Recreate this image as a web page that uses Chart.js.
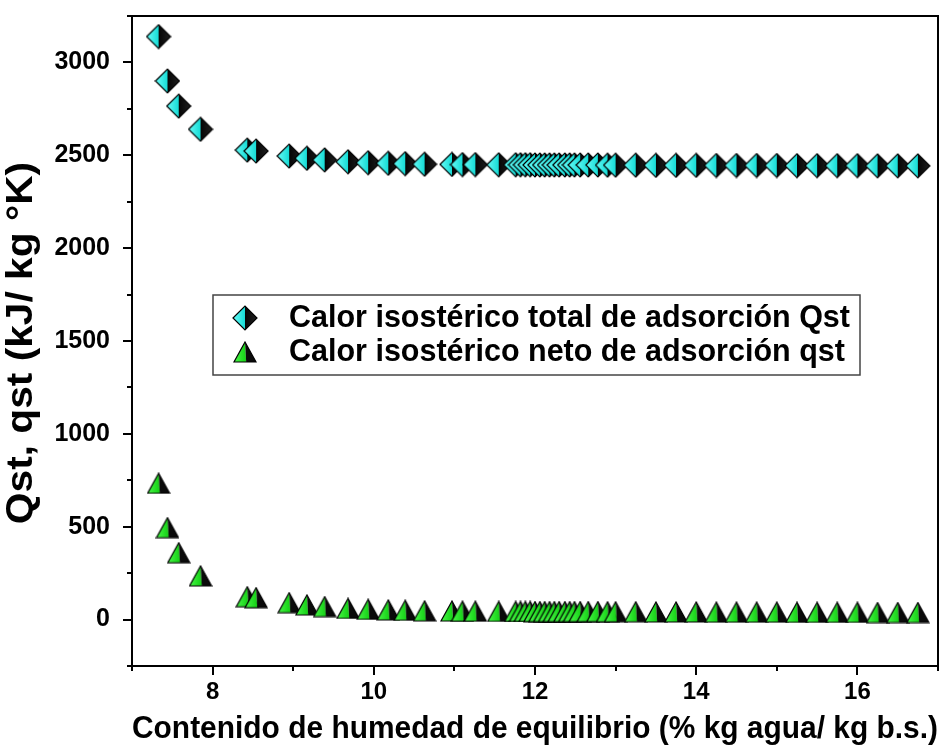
<!DOCTYPE html>
<html>
<head>
<meta charset="utf-8">
<script src="https://cdn.jsdelivr.net/npm/chart.js@4/dist/chart.umd.min.js"></script>
<style>
  html, body { margin: 0; padding: 0; background: #ffffff; }
  #wrap { width: 946px; height: 750px; }
</style>
</head>
<body>
<div id="wrap"><canvas id="c" width="946" height="750"></canvas></div>
<script>
// Equilibrium moisture content (% kg water / kg d.b.)
const moisture = [
  7.33, 7.44, 7.58, 7.85, 8.43, 8.54, 8.95, 9.17, 9.39, 9.68,
  9.93, 10.18, 10.39, 10.63, 10.97, 11.10, 11.26, 11.55,
  11.76, 11.82, 11.88, 11.94, 12.00, 12.06, 12.12, 12.18, 12.24, 12.30, 12.37, 12.43, 12.49, 12.56,
  12.66, 12.78, 12.90,
  13.00, 13.25, 13.50, 13.75, 14.00, 14.25, 14.50, 14.75, 15.00, 15.25, 15.50, 15.75, 16.00, 16.25, 16.50, 16.75
];

// Total isosteric heat of sorption Qst (kJ/kg)
const qstTotal = [
  3139, 2900, 2765, 2640, 2528, 2523, 2496, 2484, 2475, 2465,
  2460, 2457, 2455, 2452, 2451, 2450, 2450, 2449,
  2449, 2449, 2449, 2449, 2448, 2448, 2448, 2448, 2448, 2448, 2448, 2448, 2448, 2448,
  2448, 2448, 2447,
  2447, 2447, 2446, 2446, 2446, 2445, 2445, 2445, 2445, 2444, 2444, 2444, 2444, 2443, 2443, 2443
];

// Net isosteric heat of sorption qst (kJ/kg)
const qstNet = [
  734, 495, 360, 235, 123, 118, 91, 79, 70, 60,
  55, 52, 50, 47, 46, 45, 45, 44,
  44, 44, 44, 44, 43, 43, 43, 43, 43, 43, 43, 43, 43, 43,
  43, 43, 42,
  42, 42, 41, 41, 41, 40, 40, 40, 40, 39, 39, 39, 39, 38, 38, 38
];

const seriesLabels = [
  'Calor isostérico total de adsorción Qst',
  'Calor isostérico neto de adsorción qst'
];

const xTitle = 'Contenido de humedad de equilibrio (% kg agua/ kg b.s.)';
const yTitle = 'Qst, qst (kJ/ kg °K)';

const xMajorTicks = [8, 10, 12, 14, 16];
const xMinorTicks = [7, 9, 11, 13, 15, 17];
const yMajorTicks = [0, 500, 1000, 1500, 2000, 2500, 3000];
const yMinorTicks = [-250, 250, 750, 1250, 1750, 2250, 2750, 3250];

const FONT = "'Liberation Sans', Arial, sans-serif";

// Half-shaded diamond marker: cyan left half, black right half
function makeDiamond(size) {
  const c = document.createElement('canvas');
  c.width = size; c.height = size;
  const g = c.getContext('2d');
  const h = size / 2, r = h - 1;
  const gl = g.createLinearGradient(h - r, 0, h, 0);
  gl.addColorStop(0, '#6afcf8');
  gl.addColorStop(1, '#16dcd6');
  g.beginPath(); g.moveTo(h - r, h); g.lineTo(h, h - r); g.lineTo(h, h + r); g.closePath();
  g.fillStyle = gl; g.fill();
  const gr = g.createLinearGradient(h, 0, h + r, 0);
  gr.addColorStop(0, '#050505');
  gr.addColorStop(1, '#202020');
  g.beginPath(); g.moveTo(h, h - r); g.lineTo(h + r, h); g.lineTo(h, h + r); g.closePath();
  g.fillStyle = gr; g.fill();
  g.beginPath(); g.moveTo(h - r, h); g.lineTo(h, h - r); g.lineTo(h + r, h); g.lineTo(h, h + r); g.closePath();
  g.strokeStyle = '#000'; g.lineWidth = 1.2; g.stroke();
  return c;
}

// Half-shaded triangle marker: green left part, black right part
function makeTriangle(w, hgt) {
  const c = document.createElement('canvas');
  c.width = w; c.height = hgt;
  const g = c.getContext('2d');
  const ax = w / 2, top = 1, bot = hgt - 1, l = 1, r = w - 1;
  const split = w * 0.55;
  const gl = g.createLinearGradient(l, 0, split, 0);
  gl.addColorStop(0, '#4af84a');
  gl.addColorStop(1, '#14d014');
  g.beginPath(); g.moveTo(ax, top); g.lineTo(l, bot); g.lineTo(split, bot); g.closePath();
  g.fillStyle = gl; g.fill();
  g.beginPath(); g.moveTo(ax, top); g.lineTo(split, bot); g.lineTo(r, bot); g.closePath();
  g.fillStyle = '#0a0a0a'; g.fill();
  g.beginPath(); g.moveTo(ax, top); g.lineTo(l, bot); g.lineTo(r, bot); g.closePath();
  g.strokeStyle = '#000'; g.lineWidth = 1.2; g.stroke();
  return c;
}

const diamondMark = makeDiamond(26);
const triangleMark = makeTriangle(24, 22);

// Box frame plus outward major/minor tick marks
const frameAndTicks = {
  id: 'frameAndTicks',
  afterDatasetsDraw(chart) {
    const { ctx, chartArea: a, scales: { x, y } } = chart;
    ctx.save();
    ctx.strokeStyle = '#000';
    ctx.lineWidth = 2;
    ctx.strokeRect(a.left, a.top, a.right - a.left, a.bottom - a.top);
    ctx.beginPath();
    xMajorTicks.forEach(v => { const p = Math.round(x.getPixelForValue(v)); ctx.moveTo(p, a.bottom); ctx.lineTo(p, a.bottom + 9); });
    xMinorTicks.forEach(v => { const p = Math.round(x.getPixelForValue(v)); ctx.moveTo(p, a.bottom); ctx.lineTo(p, a.bottom + 5); });
    yMajorTicks.forEach(v => { const p = Math.round(y.getPixelForValue(v)); ctx.moveTo(a.left, p); ctx.lineTo(a.left - 9, p); });
    yMinorTicks.forEach(v => { const p = Math.round(y.getPixelForValue(v)); ctx.moveTo(a.left, p); ctx.lineTo(a.left - 5, p); });
    ctx.stroke();
    ctx.restore();
  }
};

// Vertical axis title, drawn slightly elongated along its run
const yAxisTitle = {
  id: 'yAxisTitle',
  afterDraw(chart) {
    const { ctx, chartArea: a } = chart;
    ctx.save();
    ctx.translate(22, (a.top + a.bottom) / 2 + 2);
    ctx.rotate(-Math.PI / 2);
    ctx.scale(1.1, 1);
    ctx.font = 'bold 37px ' + FONT;
    ctx.fillStyle = '#000';
    ctx.textAlign = 'center';
    ctx.textBaseline = 'middle';
    ctx.fillText(yTitle, 0, 0);
    ctx.restore();
  }
};

// Boxed legend inside the plot area
const boxLegend = {
  id: 'boxLegend',
  afterDraw(chart) {
    const { ctx, chartArea: a } = chart;
    const bx = a.left + 81, by = a.top + 279, bw = 647, bh = 80;
    ctx.save();
    ctx.fillStyle = '#fff';
    ctx.fillRect(bx, by, bw, bh);
    ctx.strokeStyle = '#444';
    ctx.lineWidth = 1.5;
    ctx.strokeRect(bx, by, bw, bh);
    ctx.font = 'bold 30.5px ' + FONT;
    ctx.fillStyle = '#000';
    ctx.textBaseline = 'middle';
    ctx.textAlign = 'left';
    chart.data.datasets.forEach((ds, i) => {
      const cy = by + 23 + i * 34;
      const img = ds.pointStyle;
      ctx.drawImage(img, bx + 32 - img.width / 2, cy - img.height / 2);
      ctx.fillText(ds.label, bx + 76, cy + 1);
    });
    ctx.restore();
  }
};

new Chart(document.getElementById('c'), {
  type: 'scatter',
  data: {
    datasets: [
      {
        label: seriesLabels[0],
        data: moisture.map((m, i) => ({ x: m, y: qstTotal[i] })),
        pointStyle: diamondMark,
        pointRadius: 12,
        showLine: false
      },
      {
        label: seriesLabels[1],
        data: moisture.map((m, i) => ({ x: m, y: qstNet[i] })),
        pointStyle: triangleMark,
        pointRadius: 12,
        showLine: false
      }
    ]
  },
  options: {
    responsive: false,
    devicePixelRatio: 1,
    animation: false,
    layout: { autoPadding: false, padding: { left: 0, right: 8, top: 16, bottom: 0 } },
    plugins: { legend: { display: false }, tooltip: { enabled: false } },
    scales: {
      x: {
        type: 'linear',
        min: 7, max: 17,
        afterBuildTicks: s => { s.ticks = xMajorTicks.map(v => ({ value: v })); },
        afterFit: s => { s.height = 84; s.paddingLeft = 0; s.paddingRight = 0; },
        grid: { display: false, drawTicks: false, tickLength: 0 },
        border: { display: false },
        ticks: {
          autoSkip: false, maxRotation: 0,
          padding: 12,
          color: '#000',
          font: { family: FONT, size: 24, weight: 'bold' },
          callback: v => String(v)
        },
        title: {
          display: true,
          text: xTitle,
          color: '#000',
          font: { family: FONT, size: 31.2, weight: 'bold' },
          padding: { top: 0, bottom: 2 }
        }
      },
      y: {
        type: 'linear',
        min: -250, max: 3250,
        afterBuildTicks: s => { s.ticks = yMajorTicks.map(v => ({ value: v })); },
        afterFit: s => { s.width = 132; s.paddingTop = 0; s.paddingBottom = 0; },
        grid: { display: false, drawTicks: false, tickLength: 0 },
        border: { display: false },
        ticks: {
          autoSkip: false,
          padding: 22,
          color: '#000',
          font: { family: FONT, size: 25, weight: 'bold' },
          callback: v => String(v)
        },
        title: { display: false }
      }
    }
  },
  plugins: [frameAndTicks, yAxisTitle, boxLegend]
});
</script>
</body>
</html>
